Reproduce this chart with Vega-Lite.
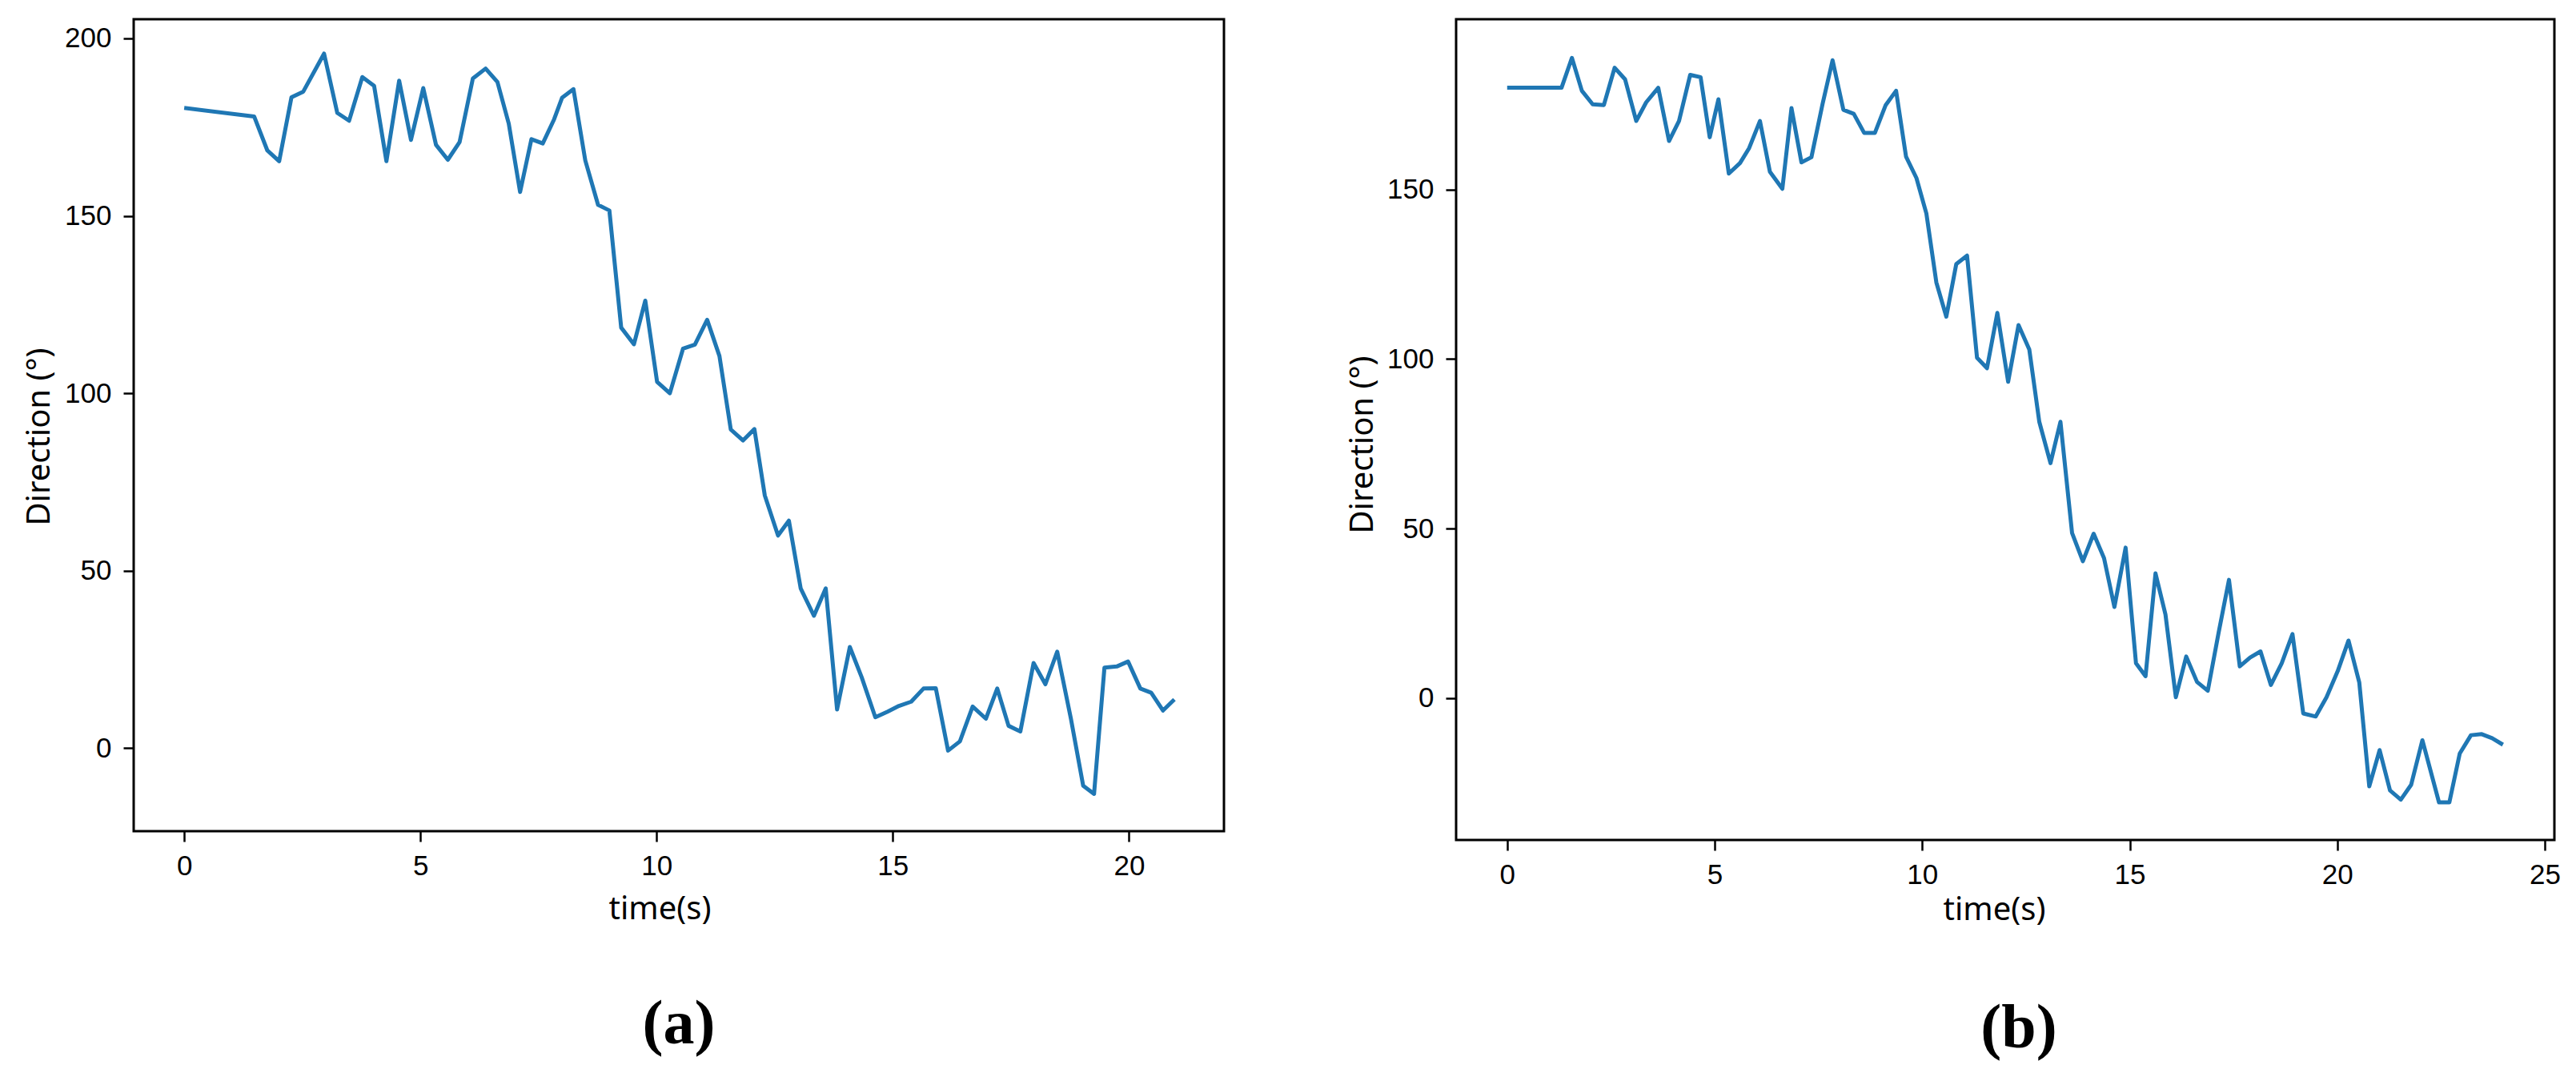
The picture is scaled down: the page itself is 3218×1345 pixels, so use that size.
{
  "$schema": "https://vega.github.io/schema/vega-lite/v6.json",
  "background": "white",
  "padding": {"left": 27, "top": 22, "right": 20, "bottom": 5},
  "spacing": 290,
  "bounds": "flush",
  "config": {
    "view": {"stroke": "black", "strokeWidth": 3},
    "axis": {
      "domain": false,
      "grid": false,
      "ticks": true,
      "tickColor": "black",
      "tickWidth": 2.5,
      "tickSize": 13,
      "labelFont": "Liberation Sans",
      "labelFontSize": 35,
      "labelColor": "black",
      "titleFont": "Noto Sans",
      "titleFontSize": 40,
      "titleFontWeight": "normal",
      "titleColor": "black"
    },
    "axisX": {"labelPadding": 13},
    "axisY": {"labelPadding": 15},
    "title": {"font": "Liberation Serif", "fontSize": 78, "fontWeight": "bold", "color": "black"}
  },
  "datasets": {
    "a": [
      {"t": 0, "v": 180.4}, {"t": 1.48, "v": 178.0}, {"t": 1.76, "v": 168.4}, {"t": 2.01, "v": 165.4},
      {"t": 2.27, "v": 183.4}, {"t": 2.52, "v": 185.0}, {"t": 2.96, "v": 195.7}, {"t": 3.24, "v": 179.0},
      {"t": 3.49, "v": 176.8}, {"t": 3.77, "v": 189.1}, {"t": 4.02, "v": 186.6}, {"t": 4.28, "v": 165.4},
      {"t": 4.55, "v": 188.1}, {"t": 4.80, "v": 171.4}, {"t": 5.06, "v": 186.0}, {"t": 5.33, "v": 170.0},
      {"t": 5.58, "v": 165.8}, {"t": 5.83, "v": 170.8}, {"t": 6.11, "v": 188.7}, {"t": 6.38, "v": 191.5},
      {"t": 6.63, "v": 187.7}, {"t": 6.87, "v": 176.0}, {"t": 7.11, "v": 156.7}, {"t": 7.35, "v": 171.6},
      {"t": 7.59, "v": 170.4}, {"t": 7.83, "v": 177.2}, {"t": 8.00, "v": 183.3}, {"t": 8.24, "v": 185.7},
      {"t": 8.49, "v": 165.6}, {"t": 8.76, "v": 153.1}, {"t": 9.00, "v": 151.5}, {"t": 9.25, "v": 118.5},
      {"t": 9.52, "v": 113.8}, {"t": 9.76, "v": 126.1}, {"t": 10.01, "v": 103.2}, {"t": 10.28, "v": 100.0},
      {"t": 10.56, "v": 112.6}, {"t": 10.81, "v": 113.7}, {"t": 11.07, "v": 120.7}, {"t": 11.33, "v": 110.5},
      {"t": 11.57, "v": 89.8}, {"t": 11.83, "v": 86.7}, {"t": 12.07, "v": 89.9}, {"t": 12.29, "v": 71.2},
      {"t": 12.57, "v": 59.9}, {"t": 12.80, "v": 64.1}, {"t": 13.05, "v": 45.0}, {"t": 13.33, "v": 37.3},
      {"t": 13.58, "v": 45.0}, {"t": 13.82, "v": 10.9}, {"t": 14.09, "v": 28.5}, {"t": 14.34, "v": 20.0},
      {"t": 14.63, "v": 8.7}, {"t": 14.89, "v": 10.3}, {"t": 15.13, "v": 11.9}, {"t": 15.39, "v": 13.1},
      {"t": 15.65, "v": 16.8}, {"t": 15.91, "v": 16.9}, {"t": 16.17, "v": -0.7}, {"t": 16.42, "v": 1.9},
      {"t": 16.69, "v": 11.7}, {"t": 16.97, "v": 8.3}, {"t": 17.21, "v": 16.8}, {"t": 17.45, "v": 6.3},
      {"t": 17.70, "v": 4.7}, {"t": 17.98, "v": 24.0}, {"t": 18.23, "v": 18.0}, {"t": 18.48, "v": 27.2},
      {"t": 18.77, "v": 8.3}, {"t": 19.03, "v": -10.6}, {"t": 19.26, "v": -12.9}, {"t": 19.48, "v": 22.7},
      {"t": 19.74, "v": 23.0}, {"t": 19.98, "v": 24.4}, {"t": 20.24, "v": 16.8}, {"t": 20.47, "v": 15.6},
      {"t": 20.72, "v": 10.6}, {"t": 20.96, "v": 13.7}
    ],
    "b": [
      {"t": 0, "v": 180.0}, {"t": 1.31, "v": 180.0}, {"t": 1.56, "v": 188.8}, {"t": 1.80, "v": 179.1},
      {"t": 2.06, "v": 175.1}, {"t": 2.33, "v": 174.9}, {"t": 2.59, "v": 185.9}, {"t": 2.84, "v": 182.5},
      {"t": 3.11, "v": 170.2}, {"t": 3.35, "v": 175.7}, {"t": 3.64, "v": 180.0}, {"t": 3.90, "v": 164.3},
      {"t": 4.14, "v": 170.2}, {"t": 4.41, "v": 183.8}, {"t": 4.66, "v": 183.1}, {"t": 4.88, "v": 165.4},
      {"t": 5.09, "v": 176.6}, {"t": 5.34, "v": 154.7}, {"t": 5.61, "v": 157.8}, {"t": 5.83, "v": 162.2},
      {"t": 6.09, "v": 170.2}, {"t": 6.33, "v": 155.2}, {"t": 6.63, "v": 150.2}, {"t": 6.85, "v": 174.0},
      {"t": 7.09, "v": 158.0}, {"t": 7.33, "v": 159.5}, {"t": 7.60, "v": 175.3}, {"t": 7.84, "v": 188.1},
      {"t": 8.10, "v": 173.5}, {"t": 8.35, "v": 172.3}, {"t": 8.60, "v": 166.7}, {"t": 8.86, "v": 166.7},
      {"t": 9.12, "v": 174.9}, {"t": 9.37, "v": 179.1}, {"t": 9.61, "v": 159.7}, {"t": 9.86, "v": 153.4},
      {"t": 10.10, "v": 142.9}, {"t": 10.34, "v": 122.6}, {"t": 10.58, "v": 112.5}, {"t": 10.82, "v": 128.0},
      {"t": 11.08, "v": 130.5}, {"t": 11.32, "v": 100.4}, {"t": 11.56, "v": 97.3}, {"t": 11.81, "v": 113.6},
      {"t": 12.07, "v": 93.3}, {"t": 12.32, "v": 110.0}, {"t": 12.58, "v": 102.8}, {"t": 12.82, "v": 81.5},
      {"t": 13.09, "v": 69.3}, {"t": 13.33, "v": 81.5}, {"t": 13.61, "v": 48.7}, {"t": 13.87, "v": 40.4},
      {"t": 14.13, "v": 48.5}, {"t": 14.38, "v": 41.3}, {"t": 14.63, "v": 26.9}, {"t": 14.90, "v": 44.4},
      {"t": 15.15, "v": 10.3}, {"t": 15.38, "v": 6.5}, {"t": 15.62, "v": 36.8}, {"t": 15.86, "v": 24.7},
      {"t": 16.11, "v": 0.3}, {"t": 16.36, "v": 12.3}, {"t": 16.62, "v": 4.8}, {"t": 16.88, "v": 2.2},
      {"t": 17.14, "v": 19.3}, {"t": 17.39, "v": 34.9}, {"t": 17.65, "v": 9.4}, {"t": 17.90, "v": 12.0},
      {"t": 18.15, "v": 13.8}, {"t": 18.40, "v": 3.9}, {"t": 18.66, "v": 10.3}, {"t": 18.92, "v": 18.9},
      {"t": 19.18, "v": -4.5}, {"t": 19.48, "v": -5.4}, {"t": 19.74, "v": 0.3}, {"t": 20.01, "v": 8.0},
      {"t": 20.27, "v": 17.0}, {"t": 20.53, "v": 4.6}, {"t": 20.77, "v": -26.0}, {"t": 21.02, "v": -15.3},
      {"t": 21.27, "v": -27.2}, {"t": 21.53, "v": -29.9}, {"t": 21.78, "v": -25.5}, {"t": 22.05, "v": -12.4},
      {"t": 22.45, "v": -30.7}, {"t": 22.70, "v": -30.7}, {"t": 22.95, "v": -16.3}, {"t": 23.22, "v": -10.9},
      {"t": 23.48, "v": -10.6}, {"t": 23.73, "v": -11.8}, {"t": 23.99, "v": -13.7}
    ]
  },
  "hconcat": [
    {
      "width": 1362,
      "height": 1014,
      "data": {"name": "a"},
      "title": {"text": "(a)", "orient": "bottom", "anchor": "middle", "baseline": "alphabetic", "offset": 148},
      "mark": {"type": "line", "color": "#1f77b4", "strokeWidth": 5, "strokeJoin": "round", "clip": true},
      "encoding": {
        "x": {"field": "t", "type": "quantitative", "scale": {"domain": [-1.07, 22.01], "nice": false, "zero": false},
              "axis": {"title": "time(s)", "values": [0, 5, 10, 15, 20], "titleX": 657, "titleY": 109, "titleBaseline": "alphabetic"}},
        "y": {"field": "v", "type": "quantitative", "scale": {"domain": [-23.4, 205.4], "nice": false, "zero": false},
              "axis": {"title": "Direction (°)", "values": [0, 50, 100, 150, 200], "titleX": -106, "titleY": 521, "titleBaseline": "alphabetic", "titleAlign": "center"}}
      }
    },
    {
      "width": 1372,
      "height": 1025,
      "data": {"name": "b"},
      "title": {"text": "(b)", "orient": "bottom", "anchor": "middle", "baseline": "alphabetic", "offset": 152, "dx": 17},
      "mark": {"type": "line", "color": "#1f77b4", "strokeWidth": 5, "strokeJoin": "round", "clip": true},
      "encoding": {
        "x": {"field": "t", "type": "quantitative", "scale": {"domain": [-1.23, 25.23], "nice": false, "zero": false},
              "axis": {"title": "time(s)", "values": [0, 5, 10, 15, 20, 25], "titleX": 672, "titleY": 99, "titleBaseline": "alphabetic"}},
        "y": {"field": "v", "type": "quantitative", "scale": {"domain": [-41.8, 200.2], "nice": false, "zero": false},
              "axis": {"title": "Direction (°)", "values": [0, 50, 100, 150], "titleX": -105, "titleY": 531, "titleBaseline": "alphabetic", "titleAlign": "center"}}
      }
    }
  ]
}
